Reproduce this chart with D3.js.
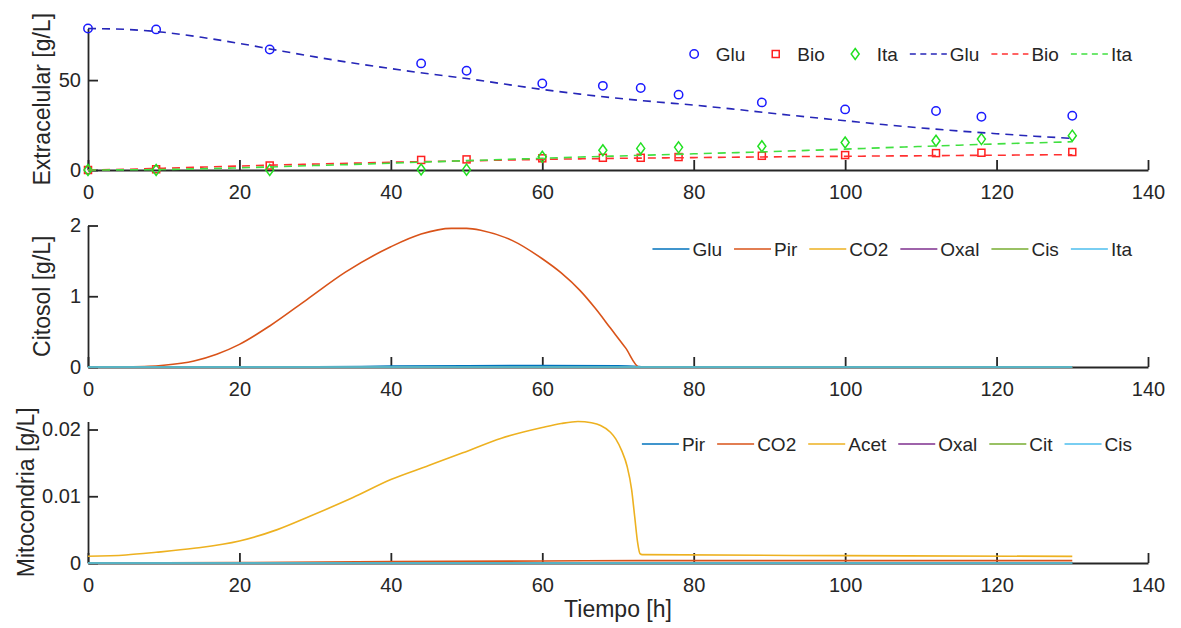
<!DOCTYPE html>
<html>
<head>
<meta charset="utf-8">
<script src="https://cdn.jsdelivr.net/npm/d3@7"></script>
<style>
  body { margin: 0; background: #fff; }
  svg { display: block; font-family: "Liberation Sans", Arial, Helvetica, sans-serif; }
  .axis path, .axis line { stroke: #262626; stroke-width: 1.8; }
  .axis text { fill: #262626; font-size: 20px; font-family: "Liberation Sans", Arial, sans-serif; }
  .axis-label { fill: #262626; font-size: 23px; }
  .legend text { fill: #262626; font-size: 19px; }
</style>
</head>
<body>
<svg id="chart" width="1181" height="628"></svg>
<script>
// --- experimental points (extracellular) ---
const T_EXP   = [0, 9, 24, 44, 50, 60, 68, 73, 78, 89, 100, 112, 118, 130];
const GLU_EXP = [78.7, 78.2, 67.0, 59.3, 55.2, 48.1, 46.8, 45.6, 41.9, 37.6, 33.7, 32.8, 29.6, 30.2];
const BIO_EXP = [0.0, 0.4, 2.5, 5.6, 5.9, 6.5, 6.8, 6.8, 7.2, 7.9, 8.3, 9.4, 9.6, 10.0];
const ITA_EXP = [0.0, 0.0, 0.0, 0.3, 0.2, 7.4, 11.0, 12.0, 12.6, 13.2, 15.3, 16.3, 17.2, 19.1];

// --- model curves (extracellular) ---
const T_MOD   = [0, 5, 10, 15, 20, 25, 30, 35, 40, 45, 50, 55, 60, 65, 70, 75, 80, 85, 90, 95, 100, 105, 110, 115, 120, 125, 130];
const GLU_MOD = [78.7, 78.2, 76.6, 73.8, 70.4, 66.6, 62.9, 59.5, 56.4, 53.5, 50.9, 47.8, 44.8, 42.2, 39.9, 37.9, 36.1, 34.0, 31.7, 29.5, 27.4, 25.3, 23.4, 21.7, 20.2, 18.8, 17.6];
const BIO_MOD = [0, 0.4, 1.0, 1.6, 2.2, 2.8, 3.3, 3.8, 4.3, 4.7, 5.1, 5.5, 5.9, 6.2, 6.5, 6.7, 6.9, 7.1, 7.3, 7.5, 7.6, 7.8, 7.9, 8.1, 8.2, 8.4, 8.5];
const ITA_MOD = [0, 0.1, 0.3, 0.7, 1.2, 1.8, 2.5, 3.1, 3.8, 4.5, 5.2, 5.9, 6.5, 7.2, 7.8, 8.4, 9.0, 9.6, 10.2, 10.9, 11.6, 12.4, 13.1, 13.8, 14.5, 15.1, 15.7];

// --- cytosol [t, g/L] ---
const CIT_GLU  = [[0, 0], [30, 0.002], [40, 0.012], [50, 0.018], [60, 0.02], [70, 0.016], [72.8, 0.005], [73.5, 0], [130, 0]];
const CIT_PIR  = [[0, 0], [5, 0.003], [8, 0.01], [10, 0.025], [14, 0.085], [17, 0.18], [20, 0.32], [24, 0.58], [29, 0.96], [34, 1.34], [40, 1.70], [44, 1.88], [48, 1.96], [50, 1.96], [52, 1.93], [56, 1.79], [60, 1.53], [62.5, 1.33], [65, 1.08], [67, 0.83], [69, 0.55], [71, 0.27], [72.8, 0], [130, 0]];
const CIT_CO2  = [[0, 0], [130, 0]];
const CIT_OXAL = [[0, 0], [130, 0]];
const CIT_CIS  = [[0, 0], [130, 0]];
const CIT_ITA  = [[0, 0], [130, 0]];

// --- mitochondria [t, g/L] ---
const MIT_PIR  = [[0, 0], [130, 0]];
const MIT_CO2  = [[0, 0], [20, 0.00005], [40, 0.0002], [60, 0.0003], [73, 0.00035], [130, 0.00035]];
const MIT_ACET = [[0, 0.001], [5, 0.0012], [9, 0.0016], [14, 0.0022], [20, 0.0033], [25, 0.005], [29.3, 0.007], [35, 0.0098], [40, 0.0125], [45, 0.0146], [49.5, 0.0165], [54.6, 0.0187], [60, 0.0203], [62.5, 0.0209], [64.7, 0.0212], [66.5, 0.021], [67.7, 0.0206], [69, 0.0196], [69.7, 0.0186], [70.5, 0.0168], [71.2, 0.0145], [71.8, 0.011], [72.2, 0.007], [72.6, 0.003], [72.9, 0.0014], [73.2, 0.00125], [100, 0.0011], [130, 0.001]];
const MIT_OXAL = [[0, 0], [130, 0]];
const MIT_CIT  = [[0, 0], [130, 0]];
const MIT_CIS  = [[0, 0], [130, 0]];

const X_TICKS = [0, 20, 40, 60, 80, 100, 120, 140];

// matlab default line colours
const C = ["#0072BD", "#D95319", "#EDB120", "#7E2F8E", "#77AC30", "#4DBEEE"];

const svg = d3.select("#chart");
const x = d3.scaleLinear().domain([0, 140]).range([88, 1148]);
const line = d3.line().x((d) => x(d[0])).y((d) => d[1]).curve(d3.curveMonotoneX);

const panels = [
  { top: 28.5, bottom: 170, ymax: 78.7, yticks: [0, 50], ylabel: "Extracelular [g/L]", labelX: 50, legendY: 54 },
  { top: 225.5, bottom: 367, ymax: 2, yticks: [0, 1, 2], ylabel: "Citosol [g/L]", labelX: 50, legendY: 249 },
  { top: 421.5, bottom: 563, ymax: 0.0212, yticks: [0, 0.01, 0.02], ylabel: "Mitocondria [g/L]", labelX: 34, legendY: 444 },
];

function drawAxes(p) {
  const y = d3.scaleLinear().domain([0, p.ymax]).range([p.bottom, p.top]);
  svg.append("g").attr("class", "axis")
    .attr("transform", `translate(0,${p.bottom})`)
    .call(d3.axisBottom(x).tickValues(X_TICKS).tickSizeInner(-10).tickSizeOuter(0).tickPadding(15))
    .call((g) => g.selectAll("text").attr("fill", "#262626"));
  svg.append("g").attr("class", "axis")
    .attr("transform", `translate(${x(0)},0)`)
    .call(d3.axisLeft(y).tickValues(p.yticks).tickSizeInner(-10).tickSizeOuter(0).tickPadding(7).tickFormat((d) => `${d}`));
  svg.append("text").attr("class", "axis-label")
    .attr("text-anchor", "middle")
    .attr("transform", `translate(${p.labelX},${(p.top + p.bottom) / 2}) rotate(-90)`)
    .text(p.ylabel);
  return y;
}

function drawSeries(y, series) {
  for (const s of series) {
    svg.append("path")
      .attr("d", line(s.pts.map((d) => [d[0], y(d[1])])))
      .attr("fill", "none")
      .attr("stroke", s.color)
      .attr("stroke-width", s.width || 1.6)
      .attr("stroke-dasharray", s.dash || null);
  }
}

function marker(sel, shape, color) {
  if (shape === "circle") {
    sel.append("circle").attr("r", 4.2);
  } else if (shape === "square") {
    sel.append("rect").attr("x", -3.5).attr("y", -3.5).attr("width", 7).attr("height", 7);
  } else {
    sel.append("path").attr("d", "M0,-5.5L4,0L0,5.5L-4,0Z");
  }
  sel.selectAll("*").attr("fill", "none").attr("stroke", color).attr("stroke-width", 1.5);
}

function drawLegend(p, items) {
  const g = svg.append("g").attr("class", "legend");
  let cx = 0;
  for (const it of items) {
    const ig = g.append("g").attr("transform", `translate(${cx},0)`);
    if (it.shape) {
      marker(ig.append("g").attr("transform", "translate(18.5,0)"), it.shape, it.color);
    } else {
      ig.append("line").attr("x1", 0).attr("x2", 37).attr("y1", 0).attr("y2", 0)
        .attr("stroke", it.color).attr("stroke-width", 1.6)
        .attr("stroke-dasharray", it.dash || null);
    }
    const t = ig.append("text").attr("x", 40).attr("dy", "0.35em").text(it.label);
    cx += 40 + t.node().getComputedTextLength() + 12;
  }
  const w = cx - 12;
  g.attr("transform", `translate(${1132 - w},${p.legendY})`);
}

// --- panel 1: extracellular ---
{
  const p = panels[0];
  const y = drawAxes(p);
  const pts = (vals) => T_EXP.map((t, i) => [t, vals[i]]);
  const exp = [
    { vals: GLU_EXP, shape: "circle", color: "#1a1aff" },
    { vals: BIO_EXP, shape: "square", color: "#ff2020" },
    { vals: ITA_EXP, shape: "diamond", color: "#22e022" },
  ];
  for (const e of exp) {
    svg.append("g").selectAll("g").data(pts(e.vals)).join("g")
      .attr("transform", (d) => `translate(${x(d[0])},${y(d[1])})`)
      .each(function () { marker(d3.select(this), e.shape, e.color); });
  }
  const mod = (vals) => T_MOD.map((t, i) => [t, vals[i]]);
  drawSeries(y, [
    { pts: mod(GLU_MOD), color: "#2626b8", dash: "8,6", width: 1.6 },
    { pts: mod(BIO_MOD), color: "#ff3030", dash: "8,6", width: 1.6 },
    { pts: mod(ITA_MOD), color: "#40e040", dash: "8,6", width: 1.6 },
  ]);
  drawLegend(p, [
    { shape: "circle", color: "#1a1aff", label: "Glu" },
    { shape: "square", color: "#ff2020", label: "Bio" },
    { shape: "diamond", color: "#22e022", label: "Ita" },
    { color: "#2626b8", dash: "6,4.5", label: "Glu" },
    { color: "#ff3030", dash: "6,4.5", label: "Bio" },
    { color: "#40e040", dash: "6,4.5", label: "Ita" },
  ]);
}

// --- panel 2: cytosol ---
{
  const p = panels[1];
  const y = drawAxes(p);
  const names = ["Glu", "Pir", "CO2", "Oxal", "Cis", "Ita"];
  const data = [CIT_GLU, CIT_PIR, CIT_CO2, CIT_OXAL, CIT_CIS, CIT_ITA];
  drawSeries(y, data.map((pts, i) => ({ pts, color: C[i] })));
  drawLegend(p, names.map((label, i) => ({ color: C[i], label })));
}

// --- panel 3: mitochondria ---
{
  const p = panels[2];
  const y = drawAxes(p);
  const names = ["Pir", "CO2", "Acet", "Oxal", "Cit", "Cis"];
  const data = [MIT_PIR, MIT_CO2, MIT_ACET, MIT_OXAL, MIT_CIT, MIT_CIS];
  drawSeries(y, data.map((pts, i) => ({ pts, color: C[i] })));
  drawLegend(p, names.map((label, i) => ({ color: C[i], label })));
}

svg.append("text").attr("class", "axis-label")
  .attr("text-anchor", "middle")
  .attr("x", x(70)).attr("y", 617)
  .text("Tiempo [h]");
</script>
</body>
</html>
